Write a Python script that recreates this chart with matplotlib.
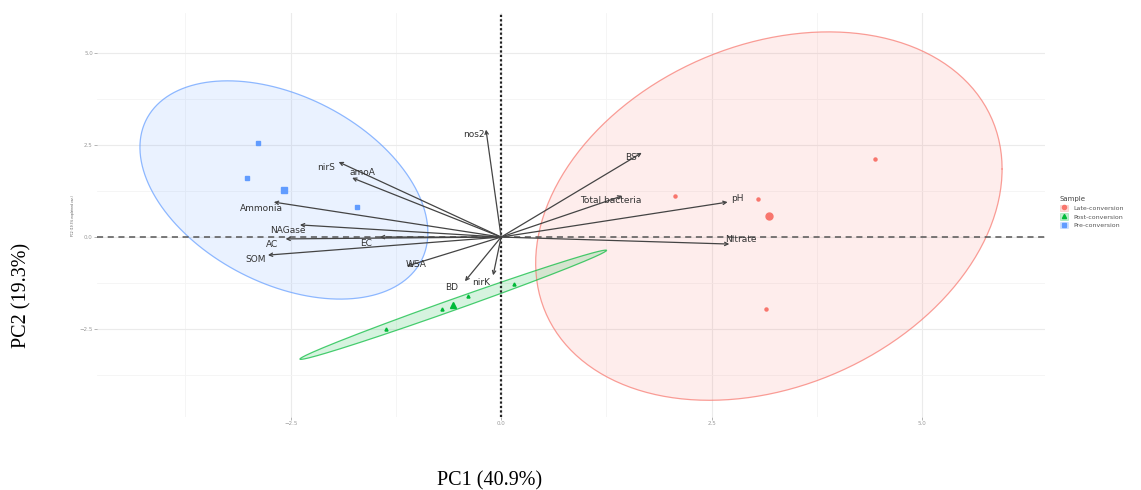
import numpy as np
import matplotlib
matplotlib.use('Agg')
import matplotlib.pyplot as plt
from matplotlib.lines import Line2D
from matplotlib.patches import Patch

## Sample scores (PC1, PC2)
groups = ['Late-conversion', 'Post-conversion', 'Pre-conversion']
late_x = [2.07, 3.05, 3.14, 4.44]
late_y = [1.12, 1.04, -1.96, 2.13]
post_x = [-1.37, -0.70, -0.39, 0.155]
post_y = [-2.51, -1.96, -1.61, -1.28]
pre_x = [-2.89, -3.02, -1.71]
pre_y = [2.56, 1.61, 0.82]

## group centroids (big markers)
cent_x = [3.18, -0.57, -2.58]
cent_y = [0.57, -1.84, 1.28]

## ellipse shapes: [m11, m21, m22] -> x = m11*cos t ; y = m21*cos t + m22*sin t
ell_shape = [[2.77, 1.28, 4.84],
             [1.82, 1.476, 0.16],
             [1.71, -1.16, 2.73]]

## variable loadings (arrow tips)
var_names = ['nos2', 'nirS', 'amoA', 'Ammonia', 'NAGase', 'AC', 'EC', 'SOM',
             'WSA', 'BD', 'nirK', 'BS', 'Total bacteria', 'pH', 'Nitrate']
var_x = [-0.18, -1.93, -1.77, -2.70, -2.39, -2.56, -1.44, -2.77,
         -1.12, -0.43, -0.095, 1.67, 1.44, 2.69, 2.71]
var_y = [2.92, 2.04, 1.61, 0.95, 0.33, -0.05, 0.0, -0.49,
         -0.79, -1.20, -1.04, 2.29, 1.12, 0.95, -0.19]

## label offsets from tips (points)
lab_off = [(-8.6, -3.6), (-9.4, -3.6), (7.2, 3.6), (-8.6, -4.3), (-8.6, -4.3),
           (-10, -4.3), (-10, -4.3), (-8.6, -2.9), (6.5, 1.4), (-9.4, -4.3),
           (-8.6, -5), (-8, -3.6), (-8, -3.6), (7.2, 2.9), (8.6, 3.6)]

cols = ['#F8766D', '#00BA38', '#619CFF']
marks = ['o', '^', 's']
fill_alpha = [0.13, 0.16, 0.13]

fig = plt.figure(figsize=(11.41, 4.9), dpi=100)
ax = fig.add_axes([0.085, 0.149, 0.8309, 0.8245])

xs = [late_x, post_x, pre_x]
ys = [late_y, post_y, pre_y]
t = np.linspace(0, 2*np.pi, 300)
for i in range(3):
    m11, m21, m22 = ell_shape[i]
    ex = cent_x[i] + m11*np.cos(t)
    ey = cent_y[i] + m21*np.cos(t) + m22*np.sin(t)
    ax.fill(ex, ey, color=cols[i], alpha=fill_alpha[i], lw=0, zorder=1)
    ax.plot(ex, ey, color=cols[i], lw=0.9, alpha=0.7, zorder=2)
    ax.plot(xs[i], ys[i], ls='none', marker=marks[i], ms=2.2, color=cols[i], zorder=3)
    ax.plot(cent_x[i], cent_y[i], ls='none', marker=marks[i], ms=5, color=cols[i], zorder=3)

## zero lines
ax.axhline(0, color='#555555', ls=(0, (4, 3)), lw=1.1, zorder=2.5)
ax.axvline(0, color='#222222', ls=(0, (1, 1)), lw=1.6, zorder=2.5)

## arrows + labels
for i in range(len(var_names)):
    ax.annotate('', xy=(var_x[i], var_y[i]), xytext=(0, 0),
                arrowprops=dict(arrowstyle='->', color='#444444', lw=0.9,
                                shrinkA=0, shrinkB=0, mutation_scale=6), zorder=4)
    ax.annotate(var_names[i], xy=(var_x[i], var_y[i]), xytext=lab_off[i],
                textcoords='offset points', ha='center', va='center',
                fontsize=6.5, color='#333333', zorder=5)

ax.set_xlim(-4.80, 6.46)
ax.set_ylim(-4.89, 6.09)
ax.set_xticks([-2.5, 0.0, 2.5, 5.0])
ax.set_yticks([-2.5, 0.0, 2.5, 5.0])
ax.set_xticks([-3.75, -1.25, 1.25, 3.75], minor=True)
ax.set_yticks([-3.75, -1.25, 1.25, 3.75], minor=True)
ax.grid(True, which='major', color='#ebebeb', lw=0.8)
ax.grid(True, which='minor', color='#f4f4f4', lw=0.6)
ax.set_axisbelow(True)
for s in ax.spines.values():
    s.set_visible(False)
ax.tick_params(which='major', labelsize=4, colors='#999999', length=2, width=0.5, pad=1)
ax.tick_params(which='minor', length=0)

## legend
handles = []
for i in range(3):
    handles.append((Patch(facecolor=cols[i], alpha=0.25, edgecolor=cols[i], lw=0.6),
                    Line2D([], [], ls='none', marker=marks[i], ms=3, color=cols[i])))
leg = ax.legend(handles, groups, title='Sample', loc='upper left',
                bbox_to_anchor=(1057/1141, 1-194/490), bbox_transform=fig.transFigure,
                frameon=False, fontsize=4.5, title_fontsize=5, handlelength=1.4,
                handleheight=1.2, labelspacing=0.35, handletextpad=0.8, borderaxespad=0)
leg._legend_box.align = 'left'
for txt in leg.get_texts():
    txt.set_color('#555555')
leg.get_title().set_color('#444444')

## axis titles (serif, outside the panel)
fig.text(490/1141, 1-481/490, 'PC1 (40.9%)', fontsize=14.5, family='Liberation Serif',
         ha='center', va='center')
fig.text(22/1141, 1-295/490, 'PC2 (19.3%)', fontsize=14.5, family='Liberation Serif',
         rotation=90, ha='center', va='center')
fig.text(73/1141, 1-216/490, 'PC2 (19.3% explained var.)', fontsize=2.2, color='#555555',
         rotation=90, ha='center', va='center')

plt.savefig('out.png', dpi=100)
